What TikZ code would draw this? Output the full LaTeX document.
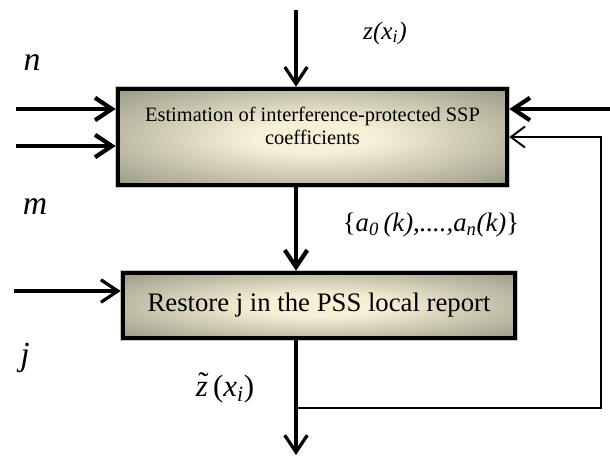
\documentclass[tikz,border=0pt]{standalone}
\usepackage{fontspec}
\setmainfont{Liberation Serif}
\usetikzlibrary{arrows.meta, positioning}

\definecolor{boxgray}{RGB}{134,132,116}
\definecolor{boxcream}{RGB}{246,241,214}

% soft glow from the middle of a block out to its edges
\pgfdeclareradialshading{blockglow}{\pgfpoint{0bp}{0bp}}{%
  color(0bp)=(boxcream); color(8bp)=(boxcream);
  color(42bp)=(boxgray); color(50bp)=(boxgray)}

\begin{document}
\begin{tikzpicture}[
  x=0.025cm, y=-0.025cm,
  >={Straight Barb[length=12pt, width=16pt]},
  blockbox/.style={
    draw=black, line width=3.2pt, shading=blockglow, shade,
    preaction={draw=gray!45, line width=4.4pt},
    align=center, inner sep=0pt
  },
  varlabel/.style={font=\fontsize{24}{28}\selectfont\itshape, inner sep=0pt},
  siglabel/.style={font=\fontsize{19}{22}\selectfont, inner sep=0pt},
  heavyarrow/.style={->, line width=3pt},
  midarrow/.style={->, line width=2.3pt},
  fbarrow/.style={->, line width=1.4pt, >={Straight Barb[length=10pt, width=15pt]}},
]
\useasboundingbox (0,0) rectangle (610,456);
% --- Blocks ---
\node[blockbox, minimum width=9.725cm, minimum height=2.4cm, text depth=16pt,
  font=\fontsize{14.5}{16.5}\selectfont] (est) at (312.5,137)
  {Estimation of interference-protected SSP\\coefficients};
\node[blockbox, minimum width=9.8cm, minimum height=1.625cm,
  font=\fontsize{19}{22}\selectfont] (rest) at (319,305.5)
  {Restore j in the PSS local report};
% --- Free ends of the signal lines ---
\coordinate (zin) at (296,10);
\coordinate (zout) at (296,455);
\coordinate (nin) at (16,109);
\coordinate (min) at (16,146);
\coordinate (jin) at (14,291);
\coordinate (rin) at (610,109);
\coordinate (fbstart) at (296,408);
\coordinate (fbturn) at (601,408);
\coordinate (fbin) at (601,137);
% --- Inputs ---
\draw[midarrow] (zin) -- (zin |- est.north);
\draw[heavyarrow] (nin) -- (nin -| est.west);
\draw[heavyarrow] (min) -- (min -| est.west);
\draw[heavyarrow] (rin) -- (rin -| est.east);
\draw[midarrow] (jin) -- (jin -| rest.west);
% --- Between the blocks and out ---
\draw[heavyarrow] (est.south -| zin) -- (rest.north -| zin);
\draw[midarrow] (rest.south -| zin) -- (zout);
\draw[fbarrow] (fbstart) -- (fbturn) -- (fbin) -- (fbin -| est.east);
% --- Labels ---
\node[varlabel] (nlab) at (32,63) {n};
\node[varlabel] (mlab) at (35,207) {m};
\node[varlabel] (jlab) at (25,358) {j};
\node[siglabel, font=\fontsize{18}{21}\selectfont\itshape] (zlab) at (385,33)
  {z(x\textsubscript{i})};
\node[siglabel] (alab) at (431,225)
  {\{\textit{a\textsubscript{0}\,(k),....,a\textsubscript{n}(k)}\}};
\node[siglabel, font=\fontsize{22}{26}\selectfont] (ztlab) at (225,388)
  {\makebox[0pt][l]{\hspace{0.08em}\raisebox{0.25ex}{\char"02DC}}\textit{z}\,(\textit{x}\textsubscript{\textit{i}})};
\end{tikzpicture}
\end{document}
